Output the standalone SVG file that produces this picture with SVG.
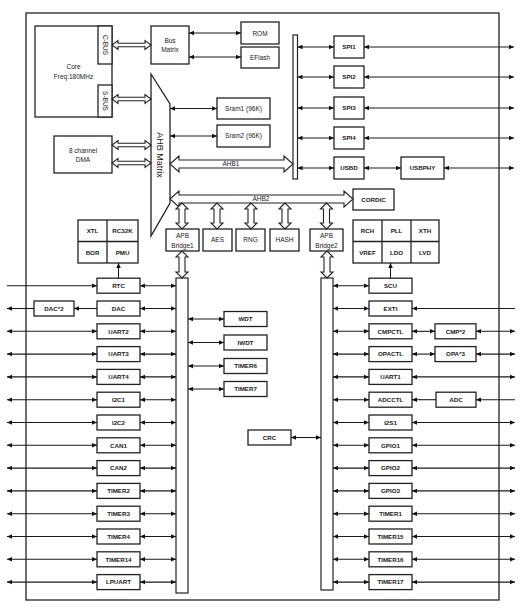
<svg xmlns="http://www.w3.org/2000/svg" width="524" height="614" viewBox="0 0 524 614">
<style>
.box{fill:#fff;stroke:#222;stroke-width:1.3}
.bar{fill:#fff;stroke:#222;stroke-width:1.2}
.t{font-family:"Liberation Sans",Arial,sans-serif;font-size:6.5px;fill:#1a1a1a;text-anchor:middle}
.b{font-weight:bold;font-size:6.2px}
.ln{stroke:#1a1a1a;stroke-width:1.1;fill:none}
.gl{stroke:#222;stroke-width:1.3}
.ha{fill:#fff;stroke:#222;stroke-width:1.1}
.d{marker-start:url(#a);marker-end:url(#a)}
.e{marker-end:url(#a)}
</style>
<defs>
<marker id="a" viewBox="0 0 10 10" refX="10" refY="5" markerWidth="5" markerHeight="5" orient="auto-start-reverse" markerUnits="userSpaceOnUse"><path d="M0,0.5 L10,5 L0,9.5z" fill="#111"/></marker>
</defs>
<rect width="524" height="614" fill="#fff"/>
<rect x="26" y="13" width="473" height="587" fill="none" stroke="#222" stroke-width="1.3"/>

<g id="core"><rect class="box" x="35" y="26" width="77" height="91"/><text class="t" x="73.5" y="69">Core</text><text class="t" x="73.5" y="78.5">Freq:180MHz</text></g>
<g id="cbus"><rect class="box" x="98" y="26" width="14" height="38"/><text class="t" transform="translate(105,45) rotate(90)" y="2.3">C-BUS</text></g>
<g id="sbus"><rect class="box" x="98" y="85" width="14" height="32"/><text class="t" transform="translate(105,101) rotate(90)" y="2.3">S-BUS</text></g>
<g id="busmatrix"><rect class="box" x="151" y="26" width="38" height="38"/><text class="t" x="170" y="42.5">Bus</text><text class="t" x="170" y="52">Matrix</text></g>
<g id="rom"><rect class="box" x="241" y="22" width="38" height="22"/><text class="t" x="260" y="35.5">ROM</text></g>
<g id="eflash"><rect class="box" x="241" y="47" width="38" height="21"/><text class="t" x="260" y="59.8">EFlash</text></g>
<g id="ahbmatrix"><polygon class="box" points="151,74 170,104 170,203 151,236"/><text class="t" style="font-size:9px" transform="translate(160,155) rotate(90)" y="3">AHB Matrix</text></g>
<g id="sram1"><rect class="box" x="217" y="98" width="53" height="21"/><text class="t" x="243.5" y="110.8">Sram1 (96K)</text></g>
<g id="sram2"><rect class="box" x="217" y="125" width="53" height="22"/><text class="t" x="243.5" y="138.3">Sram2 (96K)</text></g>
<g id="dma"><rect class="box" x="54" y="136" width="58" height="37"/><text class="t" x="83" y="153">8 channel</text><text class="t" x="83" y="161.5">DMA</text></g>
<g id="ahb1bar"><rect class="bar" x="293" y="35" width="4.5" height="144"/></g>
<g id="spi1"><rect class="box" x="334" y="36" width="30" height="22"/><text class="t b" x="349" y="49.3">SPI1</text></g>
<g id="spi2"><rect class="box" x="334" y="66" width="30" height="22"/><text class="t b" x="349" y="79.3">SPI2</text></g>
<g id="spi3"><rect class="box" x="334" y="97" width="30" height="22"/><text class="t b" x="349" y="110.3">SPI3</text></g>
<g id="spi4"><rect class="box" x="334" y="127" width="30" height="22"/><text class="t b" x="349" y="140.3">SPI4</text></g>
<g id="usbd"><rect class="box" x="334" y="157" width="30" height="22"/><text class="t b" x="349" y="170.3">USBD</text></g>
<g id="usbphy"><rect class="box" x="401" y="157" width="43" height="22"/><text class="t b" x="422.5" y="170.3">USBPHY</text></g>
<g id="cordic"><rect class="box" x="353" y="189" width="41" height="21"/><text class="t b" x="373.5" y="202">CORDIC</text></g>
<g id="apbbridge1"><rect class="box" x="166" y="229" width="33" height="22"/><text class="t" x="182.5" y="238">APB</text><text class="t" x="182.5" y="248">Bridge1</text></g>
<g id="aes"><rect class="box" x="203" y="229" width="29" height="22"/><text class="t" x="217.5" y="242.3">AES</text></g>
<g id="rng"><rect class="box" x="236" y="229" width="29" height="22"/><text class="t" x="250.5" y="242.3">RNG</text></g>
<g id="hash"><rect class="box" x="270" y="229" width="29" height="22"/><text class="t" x="284.5" y="242.3">HASH</text></g>
<g id="apbbridge2"><rect class="box" x="310" y="229" width="33" height="22"/><text class="t" x="326.5" y="238">APB</text><text class="t" x="326.5" y="248">Bridge2</text></g>
<g id="clk1"><rect class="box" x="78" y="220" width="60" height="43"/><line class="gl" x1="107" y1="220" x2="107" y2="263"/><line class="gl" x1="78" y1="241.5" x2="138" y2="241.5"/><text class="t b" x="92.5" y="233.3">XTL</text><text class="t b" x="122.5" y="233.3">RC32K</text><text class="t b" x="92.5" y="254.5">BOR</text><text class="t b" x="122.5" y="254.5">PMU</text></g>
<g id="clk2"><rect class="box" x="353" y="220" width="86" height="43"/><line class="gl" x1="382" y1="220" x2="382" y2="263"/><line class="gl" x1="411" y1="220" x2="411" y2="263"/><line class="gl" x1="353" y1="241.5" x2="439" y2="241.5"/><text class="t b" x="367.5" y="233.3">RCH</text><text class="t b" x="396.5" y="233.3">PLL</text><text class="t b" x="425" y="233.3">XTH</text><text class="t b" x="367.5" y="254.5">VREF</text><text class="t b" x="396.5" y="254.5">LDO</text><text class="t b" x="425" y="254.5">LVD</text></g>
<g id="apb1bar"><rect class="bar" x="176" y="278" width="12" height="315"/></g>
<g id="apb2bar"><rect class="bar" x="321" y="278" width="12" height="312"/></g>

<g id="rtc"><rect class="box" x="97" y="278.2" width="43" height="15"/><text class="t b" x="118.5" y="288">RTC</text></g>
<g id="dac"><rect class="box" x="97" y="301" width="43" height="15"/><text class="t b" x="118.5" y="310.8">DAC</text></g>
<g id="dac2"><rect class="box" x="34" y="301" width="40" height="15"/><text class="t b" x="54" y="310.8">DAC*2</text></g>
<g id="uart2"><rect class="box" x="97" y="323.8" width="43" height="15"/><text class="t b" x="118.5" y="333.6">UART2</text></g>
<g id="uart3"><rect class="box" x="97" y="346.6" width="43" height="15"/><text class="t b" x="118.5" y="356.4">UART3</text></g>
<g id="uart4"><rect class="box" x="97" y="369.4" width="43" height="15"/><text class="t b" x="118.5" y="379.2">UART4</text></g>
<g id="i2c1"><rect class="box" x="97" y="392.2" width="43" height="15"/><text class="t b" x="118.5" y="402">I2C1</text></g>
<g id="i2c2"><rect class="box" x="97" y="415" width="43" height="15"/><text class="t b" x="118.5" y="424.8">I2C2</text></g>
<g id="can1"><rect class="box" x="97" y="437.8" width="43" height="15"/><text class="t b" x="118.5" y="447.6">CAN1</text></g>
<g id="can2"><rect class="box" x="97" y="460.6" width="43" height="15"/><text class="t b" x="118.5" y="470.4">CAN2</text></g>
<g id="timer2"><rect class="box" x="97" y="483.4" width="43" height="15"/><text class="t b" x="118.5" y="493.2">TIMER2</text></g>
<g id="timer3"><rect class="box" x="97" y="506.2" width="43" height="15"/><text class="t b" x="118.5" y="516">TIMER3</text></g>
<g id="timer4"><rect class="box" x="97" y="529" width="43" height="15"/><text class="t b" x="118.5" y="538.8">TIMER4</text></g>
<g id="timer14"><rect class="box" x="97" y="551.8" width="43" height="15"/><text class="t b" x="118.5" y="561.6">TIMER14</text></g>
<g id="lpuart"><rect class="box" x="97" y="574.6" width="43" height="15"/><text class="t b" x="118.5" y="584.4">LPUART</text></g>

<g id="wdt"><rect class="box" x="224" y="311.5" width="43" height="15"/><text class="t b" x="245.5" y="321.3">WDT</text></g>
<g id="iwdt"><rect class="box" x="224" y="335" width="43" height="15"/><text class="t b" x="245.5" y="344.8">IWDT</text></g>
<g id="timer6"><rect class="box" x="224" y="358.5" width="43" height="15"/><text class="t b" x="245.5" y="368.3">TIMER6</text></g>
<g id="timer7"><rect class="box" x="224" y="381.5" width="43" height="15"/><text class="t b" x="245.5" y="391.3">TIMER7</text></g>
<g id="crc"><rect class="box" x="248" y="430" width="43" height="15"/><text class="t b" x="269.5" y="439.8">CRC</text></g>

<g id="scu"><rect class="box" x="369" y="278.2" width="43" height="15"/><text class="t b" x="390.5" y="288">SCU</text></g>
<g id="exti"><rect class="box" x="369" y="301" width="43" height="15"/><text class="t b" x="390.5" y="310.8">EXTI</text></g>
<g id="cmpctl"><rect class="box" x="369" y="323.8" width="43" height="15"/><text class="t b" x="390.5" y="333.6">CMPCTL</text></g>
<g id="cmp2"><rect class="box" x="435" y="323.8" width="41" height="15"/><text class="t b" x="455.5" y="333.6">CMP*2</text></g>
<g id="opactl"><rect class="box" x="369" y="346.6" width="43" height="15"/><text class="t b" x="390.5" y="356.4">OPACTL</text></g>
<g id="opa3"><rect class="box" x="435" y="346.6" width="41" height="15"/><text class="t b" x="455.5" y="356.4">OPA*3</text></g>
<g id="uart1"><rect class="box" x="369" y="369.4" width="43" height="15"/><text class="t b" x="390.5" y="379.2">UART1</text></g>
<g id="adcctl"><rect class="box" x="369" y="392.2" width="43" height="15"/><text class="t b" x="390.5" y="402">ADCCTL</text></g>
<g id="adc"><rect class="box" x="436" y="392.2" width="40" height="15"/><text class="t b" x="456" y="402">ADC</text></g>
<g id="i2s1"><rect class="box" x="369" y="415" width="43" height="15"/><text class="t b" x="390.5" y="424.8">I2S1</text></g>
<g id="gpio1"><rect class="box" x="369" y="437.8" width="43" height="15"/><text class="t b" x="390.5" y="447.6">GPIO1</text></g>
<g id="gpio2"><rect class="box" x="369" y="460.6" width="43" height="15"/><text class="t b" x="390.5" y="470.4">GPIO2</text></g>
<g id="gpio3"><rect class="box" x="369" y="483.4" width="43" height="15"/><text class="t b" x="390.5" y="493.2">GPIO3</text></g>
<g id="timer1"><rect class="box" x="369" y="506.2" width="43" height="15"/><text class="t b" x="390.5" y="516">TIMER1</text></g>
<g id="timer15"><rect class="box" x="369" y="529" width="43" height="15"/><text class="t b" x="390.5" y="538.8">TIMER15</text></g>
<g id="timer16"><rect class="box" x="369" y="551.8" width="43" height="15"/><text class="t b" x="390.5" y="561.6">TIMER16</text></g>
<g id="timer17"><rect class="box" x="369" y="574.6" width="43" height="15"/><text class="t b" x="390.5" y="584.4">TIMER17</text></g>

<g id="connectors">
<path class="ha" d="M112,45 L118,40.5 L118,43.2 L145,43.2 L145,40.5 L151,45 L145,49.5 L145,46.8 L118,46.8 L118,49.5 Z"/>
<path class="ha" d="M112,99 L118,94.5 L118,97.2 L145,97.2 L145,94.5 L151,99 L145,103.5 L145,100.8 L118,100.8 L118,103.5 Z"/>
<path class="ha" d="M112,145 L118,140.5 L118,143.2 L145,143.2 L145,140.5 L151,145 L145,149.5 L145,146.8 L118,146.8 L118,149.5 Z"/>
<path class="ha" d="M112,163 L118,158.5 L118,161.2 L145,161.2 L145,158.5 L151,163 L145,167.5 L145,164.8 L118,164.8 L118,167.5 Z"/>
<path class="ha" d="M170,164 L179,156 L179,160 L284,160 L284,156 L293,164 L284,172 L284,168 L179,168 L179,172 Z"/>
<text class="t" x="231" y="165.5">AHB1</text>
<path class="ha" d="M170,199 L179,191 L179,195 L344,195 L344,191 L353,199 L344,207 L344,203 L179,203 L179,207 Z"/>
<text class="t" x="261" y="201">AHB2</text>
<path class="ha" d="M182,203 L176,209 L179,209 L179,223 L176,223 L182,229 L188,223 L185,223 L185,209 L188,209 Z"/>
<path class="ha" d="M217,203 L211,209 L214,209 L214,223 L211,223 L217,229 L223,223 L220,223 L220,209 L223,209 Z"/>
<path class="ha" d="M251,203 L245,209 L248,209 L248,223 L245,223 L251,229 L257,223 L254,223 L254,209 L257,209 Z"/>
<path class="ha" d="M285,203 L279,209 L282,209 L282,223 L279,223 L285,229 L291,223 L288,223 L288,209 L291,209 Z"/>
<path class="ha" d="M326.5,203 L320.5,209 L323.5,209 L323.5,223 L320.5,223 L326.5,229 L332.5,223 L329.5,223 L329.5,209 L332.5,209 Z"/>
<path class="ha" d="M182,251 L176,257 L179,257 L179,272 L176,272 L182,278 L188,272 L185,272 L185,257 L188,257 Z"/>
<path class="ha" d="M327,251 L321,257 L324,257 L324,272 L321,272 L327,278 L333,272 L330,272 L330,257 L333,257 Z"/>

<line class="ln d" x1="189" y1="33" x2="241" y2="33"/>
<line class="ln d" x1="189" y1="57" x2="241" y2="57"/>
<line class="ln d" x1="170" y1="108.5" x2="217" y2="108.5"/>
<line class="ln d" x1="170" y1="136" x2="217" y2="136"/>

<line class="ln d" x1="297.5" y1="47" x2="334" y2="47"/>
<line class="ln d" x1="297.5" y1="77" x2="334" y2="77"/>
<line class="ln d" x1="297.5" y1="108" x2="334" y2="108"/>
<line class="ln d" x1="297.5" y1="138" x2="334" y2="138"/>
<line class="ln d" x1="297.5" y1="168" x2="334" y2="168"/>
<line class="ln d" x1="364" y1="47" x2="514" y2="47"/>
<line class="ln d" x1="364" y1="77" x2="514" y2="77"/>
<line class="ln d" x1="364" y1="108" x2="514" y2="108"/>
<line class="ln d" x1="364" y1="138" x2="514" y2="138"/>
<line class="ln d" x1="364" y1="168" x2="401" y2="168"/>
<line class="ln d" x1="444" y1="168" x2="514" y2="168"/>

<line class="ln e" x1="118.5" y1="278.2" x2="118.5" y2="263"/>
<line class="ln e" x1="390.5" y1="278.2" x2="390.5" y2="263"/>

<line class="ln e" x1="7" y1="285.7" x2="97" y2="285.7"/>
<line class="ln e" x1="97" y1="308.5" x2="74" y2="308.5"/>
<line class="ln e" x1="34" y1="308.5" x2="7" y2="308.5"/>
<line class="ln d" x1="7" y1="331.3" x2="97" y2="331.3"/>
<line class="ln d" x1="7" y1="354.1" x2="97" y2="354.1"/>
<line class="ln d" x1="7" y1="376.9" x2="97" y2="376.9"/>
<line class="ln d" x1="7" y1="399.7" x2="97" y2="399.7"/>
<line class="ln d" x1="7" y1="422.5" x2="97" y2="422.5"/>
<line class="ln d" x1="7" y1="445.3" x2="97" y2="445.3"/>
<line class="ln d" x1="7" y1="468.1" x2="97" y2="468.1"/>
<line class="ln d" x1="7" y1="490.9" x2="97" y2="490.9"/>
<line class="ln d" x1="7" y1="513.7" x2="97" y2="513.7"/>
<line class="ln d" x1="7" y1="536.5" x2="97" y2="536.5"/>
<line class="ln d" x1="7" y1="559.3" x2="97" y2="559.3"/>
<line class="ln d" x1="7" y1="582.1" x2="97" y2="582.1"/>

<line class="ln d" x1="140" y1="285.7" x2="176" y2="285.7"/>
<line class="ln d" x1="140" y1="308.5" x2="176" y2="308.5"/>
<line class="ln d" x1="140" y1="331.3" x2="176" y2="331.3"/>
<line class="ln d" x1="140" y1="354.1" x2="176" y2="354.1"/>
<line class="ln d" x1="140" y1="376.9" x2="176" y2="376.9"/>
<line class="ln d" x1="140" y1="399.7" x2="176" y2="399.7"/>
<line class="ln d" x1="140" y1="422.5" x2="176" y2="422.5"/>
<line class="ln d" x1="140" y1="445.3" x2="176" y2="445.3"/>
<line class="ln d" x1="140" y1="468.1" x2="176" y2="468.1"/>
<line class="ln d" x1="140" y1="490.9" x2="176" y2="490.9"/>
<line class="ln d" x1="140" y1="513.7" x2="176" y2="513.7"/>
<line class="ln d" x1="140" y1="536.5" x2="176" y2="536.5"/>
<line class="ln d" x1="140" y1="559.3" x2="176" y2="559.3"/>
<line class="ln d" x1="140" y1="582.1" x2="176" y2="582.1"/>

<line class="ln d" x1="188" y1="319" x2="224" y2="319"/>
<line class="ln d" x1="188" y1="342.5" x2="224" y2="342.5"/>
<line class="ln d" x1="188" y1="366" x2="224" y2="366"/>
<line class="ln d" x1="188" y1="389" x2="224" y2="389"/>
<line class="ln d" x1="291" y1="437.5" x2="321" y2="437.5"/>

<line class="ln d" x1="333" y1="285.7" x2="369" y2="285.7"/>
<line class="ln d" x1="333" y1="308.5" x2="369" y2="308.5"/>
<line class="ln d" x1="333" y1="331.3" x2="369" y2="331.3"/>
<line class="ln d" x1="333" y1="354.1" x2="369" y2="354.1"/>
<line class="ln d" x1="333" y1="376.9" x2="369" y2="376.9"/>
<line class="ln d" x1="333" y1="399.7" x2="369" y2="399.7"/>
<line class="ln d" x1="333" y1="422.5" x2="369" y2="422.5"/>
<line class="ln d" x1="333" y1="445.3" x2="369" y2="445.3"/>
<line class="ln d" x1="333" y1="468.1" x2="369" y2="468.1"/>
<line class="ln d" x1="333" y1="490.9" x2="369" y2="490.9"/>
<line class="ln d" x1="333" y1="513.7" x2="369" y2="513.7"/>
<line class="ln d" x1="333" y1="536.5" x2="369" y2="536.5"/>
<line class="ln d" x1="333" y1="559.3" x2="369" y2="559.3"/>
<line class="ln d" x1="333" y1="582.1" x2="369" y2="582.1"/>

<line class="ln e" x1="515" y1="308.5" x2="412" y2="308.5"/>
<line class="ln d" x1="412" y1="331.3" x2="435" y2="331.3"/>
<line class="ln d" x1="476" y1="331.3" x2="515" y2="331.3"/>
<line class="ln d" x1="412" y1="354.1" x2="435" y2="354.1"/>
<line class="ln d" x1="476" y1="354.1" x2="515" y2="354.1"/>
<line class="ln d" x1="412" y1="376.9" x2="515" y2="376.9"/>
<line class="ln e" x1="436" y1="399.7" x2="412" y2="399.7"/>
<line class="ln e" x1="515" y1="399.7" x2="476" y2="399.7"/>
<line class="ln d" x1="412" y1="422.5" x2="515" y2="422.5"/>
<line class="ln d" x1="412" y1="445.3" x2="515" y2="445.3"/>
<line class="ln d" x1="412" y1="468.1" x2="515" y2="468.1"/>
<line class="ln d" x1="412" y1="490.9" x2="515" y2="490.9"/>
<line class="ln d" x1="412" y1="513.7" x2="515" y2="513.7"/>
<line class="ln d" x1="412" y1="536.5" x2="515" y2="536.5"/>
<line class="ln d" x1="412" y1="559.3" x2="515" y2="559.3"/>
<line class="ln d" x1="412" y1="582.1" x2="515" y2="582.1"/>
</g>
</svg>
